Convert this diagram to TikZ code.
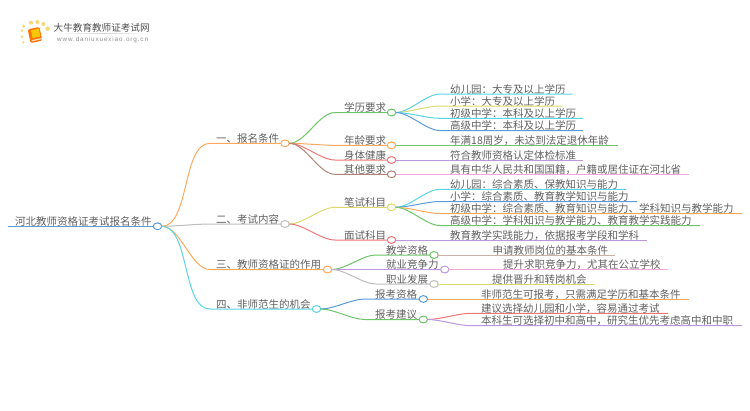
\documentclass[tikz,border=0pt]{standalone}
\usepackage{fontspec}
\usetikzlibrary{shapes.geometric}
\setmainfont{Noto Sans CJK SC}
\newfontfamily\latinf[LetterSpace=14]{Liberation Sans}
\definecolor{txtc}{HTML}{606060}
\definecolor{cblue}{HTML}{5B9BD8}
\definecolor{corange}{HTML}{FFA95F}
\definecolor{cgray}{HTML}{BDBDBD}
\definecolor{ccyan}{HTML}{5AD5E4}
\definecolor{cgreen}{HTML}{6FC469}
\definecolor{cred}{HTML}{EE7676}
\definecolor{cbrown}{HTML}{B08579}
\definecolor{colive}{HTML}{DBD970}
\definecolor{cpurple}{HTML}{BD97DC}
\definecolor{cpink}{HTML}{F3A6DD}
\definecolor{ctaupe}{HTML}{C9B1AA}
\definecolor{csun}{HTML}{F9D878}
\tikzset{
  lab/.style={anchor=base west, inner sep=0pt, text=txtc, font=\fontsize{10.5}{12}\selectfont},
  dot/.style={ellipse, draw=#1, fill=white, line width=1pt, minimum width=8.5pt, minimum height=6.8pt, inner sep=0pt, outer sep=0pt},
  link/.style={line width=1pt, draw=#1},
  br/.style={out=0, in=180, looseness=0.75},
  sun/.style={circle, fill=csun, inner sep=0pt, minimum size=#1}
}
\begin{document}
\begin{tikzpicture}[x=1pt,y=-1pt]
\useasboundingbox (0,0) rectangle (750,410);
% logo
\node[sun=2.5pt] (s0) at (23.3,42.3){};
\node[sun=3pt] (s1) at (22,36.7){};
\node[sun=3pt] (s2) at (22,30.7){};
\node[sun=3.5pt] (s3) at (23.5,26){};
\node[sun=4pt] (s4) at (31,22.7){};
\node[sun=4pt] (s5) at (37.3,22){};
\node[sun=4pt] (s6) at (43.3,24){};
\node[sun=4.5pt] (s7) at (47.7,28.7){};
\fill[rounded corners=1.5pt, orange!90!red, rotate around={12:(35,35)}] (29,28) rectangle (41,42);
\fill[white, opacity=.7, rotate around={12:(35,35)}] (30.5,39.3) rectangle (41,40.6);
\fill[yellow!60!orange, rotate around={12:(35,35)}] (32,29.5) rectangle (40,37.5);
\shade[left color=white, right color=black!18] (60,33) rectangle (105,33.7);
\shade[left color=black!18, right color=white] (105,33) rectangle (145,33.7);
\node[anchor=base west, inner sep=0pt, text=black!70, font=\fontsize{9.6}{12}\selectfont] (logo) at (53.5,31){大牛教育教师证考试网};
\node[anchor=base west, inner sep=0pt, text=black!45, font=\latinf\fontsize{6.3}{8}\selectfont] (url) at (57,41.5){www.daniuxuexiao.org.cn};
% root
\coordinate (r0) at (8,226.3);
\node[dot=cblue] (c0) at (157.5,226.3){};
\node[lab] (t0) at (15,225.3){河北教师资格证考试报名条件};
\draw[link=cblue](r0) -- (c0);
% level 1
\node[dot=corange] (c1) at (285,143.3){};
\node[dot=cgray] (c2) at (285,224){};
\node[dot=corange] (c3) at (327.5,269.5){};
\node[dot=ccyan] (c4) at (316.5,309){};
\node[lab] (t1) at (216,142.3){一、报名条件};
\node[lab] (t2) at (216,223){二、考试内容};
\node[lab] (t3) at (216,268.5){三、教师资格证的作用};
\node[lab] (t4) at (216,308){四、非师范生的机会};
\coordinate (k1) at (210,143.3);
\coordinate (k2) at (210,224);
\coordinate (k3) at (210,269.5);
\coordinate (k4) at (210,309);
\draw[link=corange](c0.east) to[br] (k1) -- (c1);
\draw[link=cgray](c0.east) to[br] (k2) -- (c2);
\draw[link=corange](c0.east) to[br] (k3) -- (c3);
\draw[link=ccyan](c0.east) to[br] (k4) -- (c4);
% level 2
\node[dot=cgreen] (c11) at (391.5,112.5){};
\node[dot=corange] (c12) at (391.5,145.3){};
\node[dot=cred] (c13) at (391.5,160){};
\node[dot=cbrown] (c14) at (391.5,174.3){};
\node[dot=colive] (c21) at (391.5,207.3){};
\node[dot=cred] (c22) at (391.5,240){};
\node[dot=cgreen] (c31) at (434,255){};
\node[dot=cpurple] (c32) at (444.7,269.5){};
\node[dot=cgray] (c33) at (434,284){};
\node[dot=cblue] (c41) at (423.3,299){};
\node[dot=cgreen] (c42) at (423.3,319.5){};
\node[lab] (t11) at (344,111.5){学历要求};
\node[lab] (t12) at (344,144.3){年龄要求};
\node[lab] (t13) at (344,159){身体健康};
\node[lab] (t14) at (344,173.3){其他要求};
\node[lab] (t21) at (344,206.3){笔试科目};
\node[lab] (t22) at (344,239){面试科目};
\node[lab] (t31) at (386,254){教学资格};
\node[lab] (t32) at (386,268.5){就业竞争力};
\node[lab] (t33) at (386,283){职业发展};
\node[lab] (t41) at (375,298){报考资格};
\node[lab] (t42) at (375,318.5){报考建议};
\coordinate (k11) at (335,112.5);
\coordinate (k12) at (335,145.3);
\coordinate (k13) at (335,160);
\coordinate (k14) at (335,174.3);
\coordinate (k21) at (335,207.3);
\coordinate (k22) at (335,240);
\coordinate (k31) at (376,255);
\coordinate (k32) at (376,269.5);
\coordinate (k33) at (376,284);
\coordinate (k41) at (365,299);
\coordinate (k42) at (365,319.5);
\draw[link=cgreen](c1.east) to[br] (k11) -- (c11);
\draw[link=corange](c1.east) to[br] (k12) -- (c12);
\draw[link=cred](c1.east) to[br] (k13) -- (c13);
\draw[link=cbrown](c1.east) to[br] (k14) -- (c14);
\draw[link=colive](c2.east) to[br] (k21) -- (c21);
\draw[link=cred](c2.east) to[br] (k22) -- (c22);
\draw[link=cgreen](c3.east) to[br] (k31) -- (c31);
\draw[link=cpurple](c3.east) to[br] (k32) -- (c32);
\draw[link=cgray](c3.east) to[br] (k33) -- (c33);
\draw[link=cblue](c4.east) to[br] (k41) -- (c41);
\draw[link=cgreen](c4.east) to[br] (k42) -- (c42);
% leaves
\node[lab] (t111) at (450,93){幼儿园：大专及以上学历};
\node[lab] (t112) at (450,105){小学：大专及以上学历};
\node[lab] (t113) at (450,117.3){初级中学：本科及以上学历};
\node[lab] (t114) at (450,129.5){高级中学：本科及以上学历};
\node[lab] (t121) at (450,144.5){年满18周岁，未达到法定退休年龄};
\node[lab] (t131) at (450,159){符合教师资格认定体检标准};
\node[lab] (t141) at (450,173){具有中华人民共和国国籍，户籍或居住证在河北省};
\node[lab] (t211) at (450,188.3){幼儿园：综合素质、保教知识与能力};
\node[lab] (t212) at (450,200.5){小学：综合素质、教育教学知识与能力};
\node[lab] (t213) at (450,212.5){初级中学：综合素质、教育知识与能力、学科知识与教学能力};
\node[lab] (t214) at (450,224.5){高级中学：学科知识与教学能力、教育教学实践能力};
\node[lab] (t221) at (450,239){教育教学实践能力，依据报考学段和学科};
\node[lab] (t311) at (492.5,254){申请教师岗位的基本条件};
\node[lab] (t321) at (503,268.5){提升求职竞争力，尤其在公立学校};
\node[lab] (t331) at (492,283){提供晋升和转岗机会};
\node[lab] (t411) at (481,298){非师范生可报考，只需满足学历和基本条件};
\node[lab] (t421) at (481,312.3){建议选择幼儿园和小学，容易通过考试};
\node[lab] (t422) at (481,324.7){本科生可选择初中和高中，研究生优先考虑高中和中职};
\coordinate (k111) at (440,94);
\coordinate (k112) at (440,106);
\coordinate (k113) at (440,118.3);
\coordinate (k114) at (440,130.5);
\coordinate (k211) at (440,189.3);
\coordinate (k212) at (440,201.5);
\coordinate (k213) at (440,213.5);
\coordinate (k214) at (440,225.5);
\coordinate (k421) at (471,313.3);
\coordinate (k422) at (471,325.7);
\coordinate (e111) at (572.7,94);
\coordinate (e112) at (562.7,106);
\coordinate (e113) at (583,118.3);
\coordinate (e114) at (583,130.5);
\coordinate (e121) at (618,145.3);
\coordinate (e131) at (583,160);
\coordinate (e141) at (689,174.3);
\coordinate (e211) at (626,189.3);
\coordinate (e212) at (637,201.5);
\coordinate (e213) at (742,213.5);
\coordinate (e214) at (700,225.5);
\coordinate (e221) at (647,240);
\coordinate (e311) at (615,255);
\coordinate (e321) at (668,269.5);
\coordinate (e331) at (595,284);
\coordinate (e411) at (689,299);
\coordinate (e421) at (668,313.3);
\coordinate (e422) at (742,325.7);
\draw[link=ccyan](c11.east) to[br] (k111) -- (e111);
\draw[link=colive](c11.east) to[br] (k112) -- (e112);
\draw[link=ccyan](c11.east) to[br] (k113) -- (e113);
\draw[link=cblue](c11.east) to[br] (k114) -- (e114);
\draw[link=cgreen](c12) -- (e121);
\draw[link=cpurple](c13) -- (e131);
\draw[link=cpink](c14) -- (e141);
\draw[link=ccyan](c21.east) to[br] (k211) -- (e211);
\draw[link=cblue](c21.east) to[br] (k212) -- (e212);
\draw[link=corange](c21.east) to[br] (k213) -- (e213);
\draw[link=cgreen](c21.east) to[br] (k214) -- (e214);
\draw[link=cpurple](c22) -- (e221);
\draw[link=ctaupe](c31) -- (e311);
\draw[link=cpink](c32) -- (e321);
\draw[link=colive](c33) -- (e331);
\draw[link=corange](c41) -- (e411);
\draw[link=cred](c42.east) to[br] (k421) -- (e421);
\draw[link=cpurple](c42.east) to[br] (k422) -- (e422);
\end{tikzpicture}
\end{document}
